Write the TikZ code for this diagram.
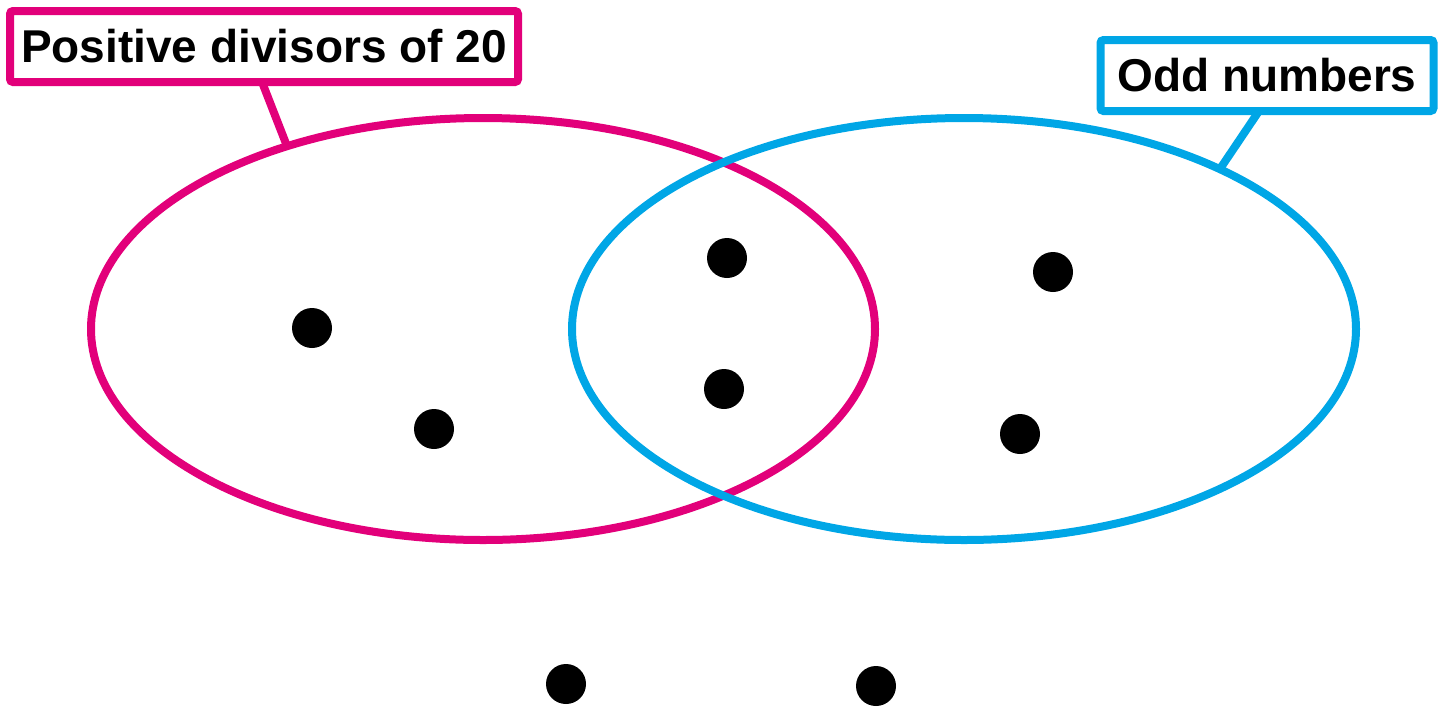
\documentclass[tikz,border=0pt]{standalone}
\usepackage{fontspec}
\setmainfont{Liberation Sans}
\usetikzlibrary{shapes.geometric, positioning}
\definecolor{SetPink}{RGB}{226,0,122}
\definecolor{SetBlue}{RGB}{0,166,230}

\begin{document}
\begin{tikzpicture}[x=0.5pt, y=-0.5pt,
		set/.style={draw, ellipse, line width=4pt, inner sep=0pt, outer sep=0pt, minimum width=392pt, minimum height=211pt},
		tag/.style={draw, line width=4pt, rounded corners=1.5pt, fill=white, text=black, inner sep=0pt, outer sep=0pt, minimum height=35.5pt, font=\fontsize{23}{27}\selectfont\bfseries},
		pt/.style={circle, fill=black, inner sep=0pt, minimum size=20pt},
		lead/.style={line width=4pt}]
	\useasboundingbox (0,0) rectangle (1440,713);
	\node[set, draw=SetPink] (pk) at (483,329) {};
	\node[set, draw=SetBlue] (bl) at (964,329) {};
	\node[tag, draw=SetPink, minimum width=254pt] (pl) at (264,46.5) {Positive divisors of 20};
	\node[tag, draw=SetBlue, minimum width=166.5pt] (bt) at (1267,75.5) {Odd numbers};

	\draw[lead, SetPink] ([xshift=-1pt]pl.south) -- (pk.137);
	\draw[lead, SetBlue] ([xshift=-4pt]bt.south) -- (bl.32);

	% elements
	\foreach \x/\y [count=\i] in {312/328, 434/429, 727/258, 724/389, 1053/272, 1020/434, 566/684, 876/686}
		\node[pt] (e\i) at (\x,\y) {};
\end{tikzpicture}
\end{document}
